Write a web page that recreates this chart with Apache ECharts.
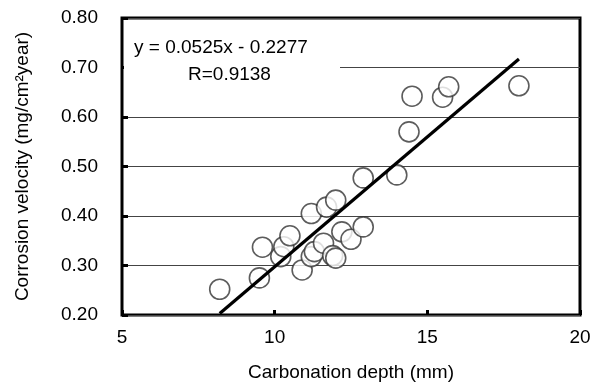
<!DOCTYPE html>
<html lang="en">
<head>
    <meta charset="UTF-8">
    <title>Corrosion velocity vs carbonation depth</title>
    <script src="https://cdn.jsdelivr.net/npm/echarts@6/dist/echarts.min.js"></script>
</head>
<body style="margin:0;background:#fff;">
<div id="main" style="width:594px;height:389px;"></div>
<script type="text/javascript">
    // carbonation depth (mm) and corrosion velocity
    var depth = [8.2, 9.5, 9.6, 10.2, 10.3, 10.5, 10.9, 11.2, 11.2, 11.3, 11.6, 11.7, 11.9, 12.0, 12.0,
                 12.2, 12.5, 12.9, 12.9, 14.0, 14.4, 14.5, 15.5, 15.7, 18.0];
    var velocity = [0.252, 0.275, 0.337, 0.318, 0.338, 0.360, 0.291, 0.405, 0.318, 0.328, 0.345, 0.418, 0.320, 0.432, 0.315,
                    0.368, 0.353, 0.378, 0.477, 0.483, 0.570, 0.642, 0.640, 0.661, 0.663];
    // fitted line ends (y = 0.0525x - 0.2277)
    var fitX = [8.2, 18.0];
    var fitY = [0.203, 0.717];
    var yTicks = [0.2, 0.3, 0.4, 0.5, 0.6, 0.7, 0.8];
    var xTicks = [5, 10, 15, 20];

    var points = depth.map(function (d, i) { return [d, velocity[i]]; });
    var fitLine = fitX.map(function (d, i) { return [d, fitY[i]]; });

    var myChart = echarts.init(document.getElementById('main'));
    var font = 'Liberation Sans, Arial, sans-serif';
    var fs = 19;

    myChart.setOption({
        animation: false,
        grid: {
            left: 122, right: 14, top: 18, bottom: 74,
            show: true, borderColor: '#000', borderWidth: 3, backgroundColor: 'transparent'
        },
        xAxis: {
            type: 'value',
            min: xTicks[0], max: xTicks[xTicks.length - 1], interval: 5,
            name: 'Carbonation depth (mm)',
            nameLocation: 'middle', nameGap: 48,
            nameTextStyle: { color: '#000', fontSize: fs, fontFamily: font },
            axisLine: { show: false },
            axisTick: { show: true, inside: true, length: 5, lineStyle: { color: '#000', width: 3 } },
            axisLabel: { color: '#000', fontSize: fs, fontFamily: font, margin: 13 },
            splitLine: { show: false }
        },
        yAxis: {
            type: 'value',
            min: yTicks[0], max: yTicks[yTicks.length - 1], interval: 0.1,
            name: 'Corrosion velocity (mg/cm²year)',
            nameLocation: 'middle', nameGap: 90,
            nameTextStyle: { color: '#000', fontSize: fs, fontFamily: font },
            axisLine: { show: false },
            axisTick: { show: true, inside: true, length: 6, lineStyle: { color: '#000', width: 3 } },
            axisLabel: {
                color: '#000', fontSize: fs, fontFamily: font, margin: 24,
                formatter: function (v) { return v.toFixed(2); }
            },
            splitLine: { show: true, lineStyle: { color: '#444', width: 1 } }
        },
        graphic: [
            { type: 'rect', z: 50, shape: { x: 124, y: 20, width: 216, height: 78 }, style: { fill: '#fff' } },
            { type: 'text', z: 51, left: 134, top: 38, style: { text: 'y = 0.0525x - 0.2277', fontSize: fs, fontFamily: font, fill: '#000' } },
            { type: 'text', z: 51, left: 188, top: 65, style: { text: 'R=0.9138', fontSize: fs, fontFamily: font, fill: '#000' } }
        ],
        series: [
            {
                type: 'scatter',
                data: points,
                symbol: 'circle',
                symbolSize: 20,
                itemStyle: { color: '#fff', borderColor: '#333', borderWidth: 1.6 },
                z: 60
            },
            {
                type: 'line',
                data: fitLine,
                symbol: 'none',
                lineStyle: { color: '#000', width: 3.2 },
                z: 70
            }
        ]
    });
</script>
</body>
</html>
